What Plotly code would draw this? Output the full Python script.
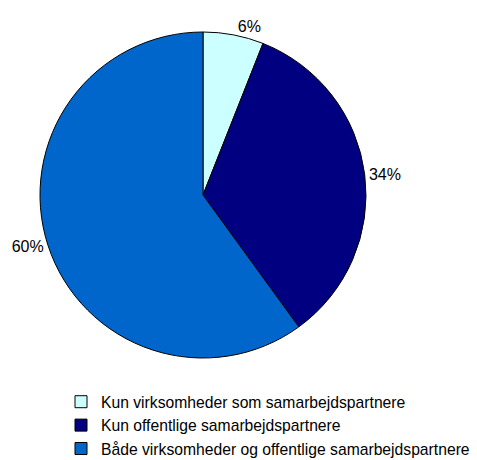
import plotly.graph_objects as go

labels = ["Kun virksomheder som samarbejdspartnere",
          "Kun offentlige samarbejdspartnere",
          "Både virksomheder og offentlige samarbejdspartnere"]
values = [6, 34, 60]
colors = ["#CCFFFF", "#000080", "#0066CC"]

W, H = 477, 460
cx, cy, r = 195, 187, 163

fig = go.Figure(go.Pie(
    labels=labels, values=values, sort=False, direction="clockwise", rotation=0,
    marker=dict(colors=colors, line=dict(color="#000000", width=1)),
    textinfo="percent", textposition="outside",
    texttemplate="%{percent:.0%}",
    textfont=dict(family="Liberation Sans, Arial, sans-serif", size=16, color="#000000"),
    outsidetextfont=dict(family="Liberation Sans, Arial, sans-serif", size=16, color="#000000"),
    domain=dict(x=[(cx - r) / W, (cx + r) / W], y=[(H - cy - r) / H, (H - cy + r) / H]),
    hoverinfo="label+percent",
))

fig.update_layout(
    width=W, height=H, margin=dict(l=0, r=0, t=0, b=0),
    paper_bgcolor="white", plot_bgcolor="white",
    font=dict(family="Liberation Sans, Arial, sans-serif", size=16, color="#000000"),
    showlegend=True,
    legend=dict(x=53 / W, xanchor="left", y=(H - 377) / H, yanchor="top",
                font=dict(family="Liberation Sans, Arial, sans-serif", size=15.7),
                bgcolor="rgba(0,0,0,0)", traceorder="normal",
                borderwidth=0),
)

fig.write_html("out.html")
